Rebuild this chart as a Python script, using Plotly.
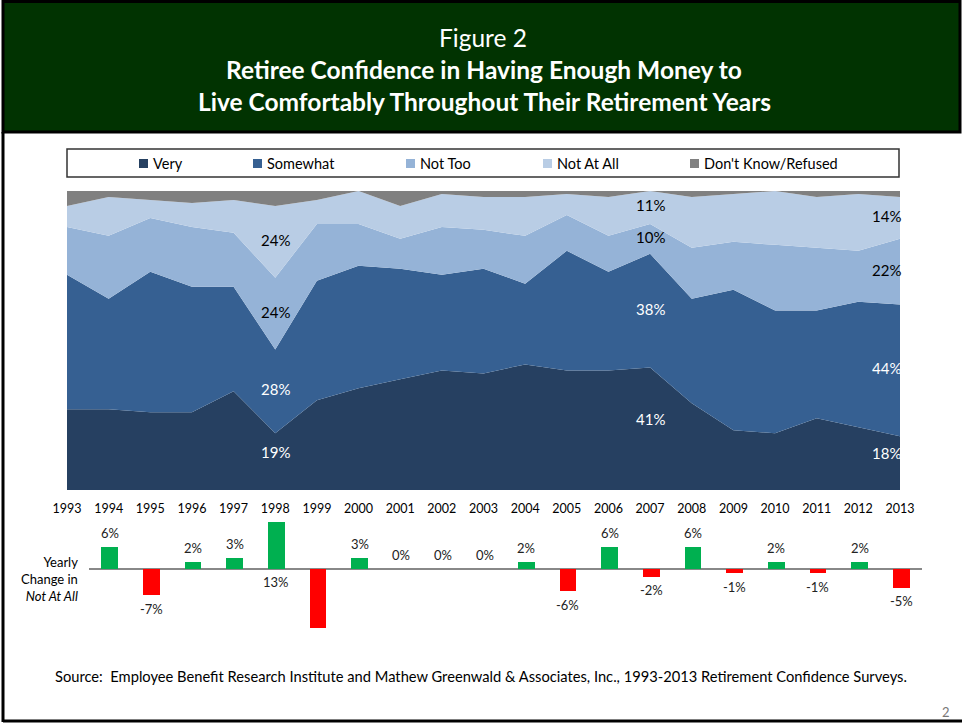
import plotly.graph_objects as go

# ---------------- data ----------------
years = list(range(1993, 2014))
very = [27, 27, 26, 26, 33, 19, 30, 34, 37, 40, 39, 42, 40, 40, 41, 29, 20, 19, 24, 21, 18]
somewhat = [45, 37, 47, 42, 35, 28, 40, 41, 37, 32, 35, 27, 40, 33, 38, 35, 47, 41, 36, 42, 44]
not_too = [16, 21, 18, 20, 18, 24, 19, 14, 10, 16, 13, 16, 12, 12, 10, 17, 16, 22, 21, 17, 22]
not_at_all = [7, 13, 6, 8, 11, 24, 8, 11, 11, 11, 11, 13, 7, 13, 11, 17, 16, 18, 17, 19, 14]
dont_know = [5, 2, 3, 4, 3, 5, 3, 0, 5, 1, 2, 2, 1, 2, 0, 2, 1, 0, 2, 1, 2]

change_years = list(range(1994, 2014))
change_not_at_all = [6, -7, 2, 3, 13, -16, 3, 0, 0, 0, 2, -6, 6, -2, 6, -1, 2, -1, 2, -5]

series_names = ["Very", "Somewhat", "Not Too", "Not At All", "Don't Know/Refused"]
series_values = [very, somewhat, not_too, not_at_all, dont_know]
series_colors = ["#264061", "#366092", "#95B3D7", "#B9CDE5", "#808080"]
label_years = [1998, 2007, 2013]

FONT = "Lato"
W, H = 962, 726


def px(x):
    return x / W


def py(y):
    return 1 - y / H


def note(x, y, text, size, color="black", xanchor="center", yanchor="middle", **kw):
    d = dict(xref="paper", yref="paper", x=px(x), y=py(y), text=text, showarrow=False,
             xanchor=xanchor, yanchor=yanchor, font=dict(family=FONT, size=size, color=color))
    d.update(kw)
    return d


fig = go.Figure()

# stacked area
for name, vals, col in zip(series_names, series_values, series_colors):
    fig.add_trace(go.Scatter(
        x=years, y=vals, name=name, stackgroup="one", mode="none",
        fillcolor=col, line=dict(width=0), xaxis="x", yaxis="y",
        showlegend=False, hoverinfo="x+y+name"))

# yearly change bars
bar_colors = ["#00B050" if v >= 0 else "#FF0000" for v in change_not_at_all]
fig.add_trace(go.Bar(
    x=change_years, y=change_not_at_all, marker=dict(color=bar_colors, line=dict(width=0)),
    width=0.4, xaxis="x2", yaxis="y2", showlegend=False))

annotations = []
shapes = []

# area labels (band midpoints; the lowest band's label sits a little higher)
for yr in label_years:
    i = years.index(yr)
    base = 0
    for k in range(4):
        v = series_values[k][i]
        mid = base + v / 2
        base += v
        a = dict(x=yr, y=mid, xref="x", yref="y", text=f"{v}%", showarrow=False,
                 xanchor="center", yanchor="middle", yshift=10 if k == 0 else 2,
                 font=dict(family=FONT, size=15, color="white" if k < 2 else "black"))
        if yr == years[-1]:
            a.update(xanchor="right", xshift=3)
        annotations.append(a)

# bar labels
for yr, v in zip(change_years, change_not_at_all):
    if v < -10:
        continue
    a = dict(x=yr, xref="x2", yref="y2", text=f"{v}%", showarrow=False, xanchor="center",
             font=dict(family=FONT, size=13, color="#222"))
    if v > 10:
        a.update(y=0, yanchor="top", yshift=-3)
    elif v >= 0:
        a.update(y=v, yanchor="bottom", yshift=4)
    else:
        a.update(y=v, yanchor="top", yshift=-4)
    annotations.append(a)

# header
shapes.append(dict(type="rect", xref="paper", yref="paper", x0=px(3), x1=px(960),
                   y0=py(132), y1=py(1.5), fillcolor="#013301", line=dict(color="black", width=3), layer="below"))
# page borders
shapes.append(dict(type="line", xref="paper", yref="paper", x0=px(3), x1=px(3),
                   y0=py(132), y1=py(722), line=dict(color="black", width=3)))
shapes.append(dict(type="line", xref="paper", yref="paper", x0=px(3), x1=px(962),
                   y0=py(721), y1=py(721), line=dict(color="black", width=3)))

annotations.append(note(483, 37, "Figure 2", 24.5, "white"))
annotations.append(note(484, 70, "<b>Retiree Confidence in Having Enough Money to</b>", 24.5, "white"))
annotations.append(note(484, 101, "<b>Live Comfortably Throughout Their Retirement Years</b>", 24.5, "white"))

# legend box
shapes.append(dict(type="rect", xref="paper", yref="paper", x0=px(67), x1=px(899),
                   y0=py(177), y1=py(149), line=dict(color="#333", width=1.5)))
legend_x = [139, 253, 406, 543, 690]
for name, col, lx in zip(series_names, series_colors, legend_x):
    shapes.append(dict(type="rect", xref="paper", yref="paper", x0=px(lx), x1=px(lx + 9),
                       y0=py(168), y1=py(159), fillcolor=col, line=dict(width=0)))
    annotations.append(note(lx + 12, 163.5, name, 14.5, xanchor="left"))

# side label for bars
annotations.append(note(80, 579, "Yearly<br>Change in<br><i>Not At All</i>", 13,
                        xanchor="right", align="right"))

# source
annotations.append(note(481, 676, "Source:  Employee Benefit Research Institute and Mathew Greenwald &amp; Associates, Inc., 1993-2013 Retirement Confidence Surveys.", 14.7))
annotations.append(note(946, 712, "2", 13, "#777"))

fig.update_layout(
    width=W, height=H, margin=dict(l=0, r=0, t=0, b=0, pad=0, autoexpand=False),
    paper_bgcolor="white", plot_bgcolor="white",
    xaxis=dict(domain=[px(67), px(900)], range=[1993, 2013], tickvals=years,
               ticktext=[str(y) for y in years], showgrid=False, zeroline=False,
               showline=False, ticks="", ticklabelstandoff=9, automargin=False,
               tickfont=dict(family=FONT, size=12.5, color="black"), fixedrange=True),
    yaxis=dict(domain=[py(490), py(191)], range=[0, 100], visible=False, fixedrange=True,
               automargin=False),
    xaxis2=dict(domain=[px(89), px(922)], range=[1993.5, 2013.5], visible=False, anchor="y2",
                automargin=False, fixedrange=True),
    yaxis2=dict(domain=[py(631.4), py(517.6)], range=[-17, 14], showgrid=False,
                showticklabels=False, zeroline=True, zerolinecolor="#888", zerolinewidth=1.5,
                anchor="x2", automargin=False, fixedrange=True),
    bargap=0, shapes=shapes, annotations=annotations,
)

fig.write_html("out.html", config={"displayModeBar": False},
               post_script="document.body.style.margin='0';document.body.style.overflow='hidden';")
